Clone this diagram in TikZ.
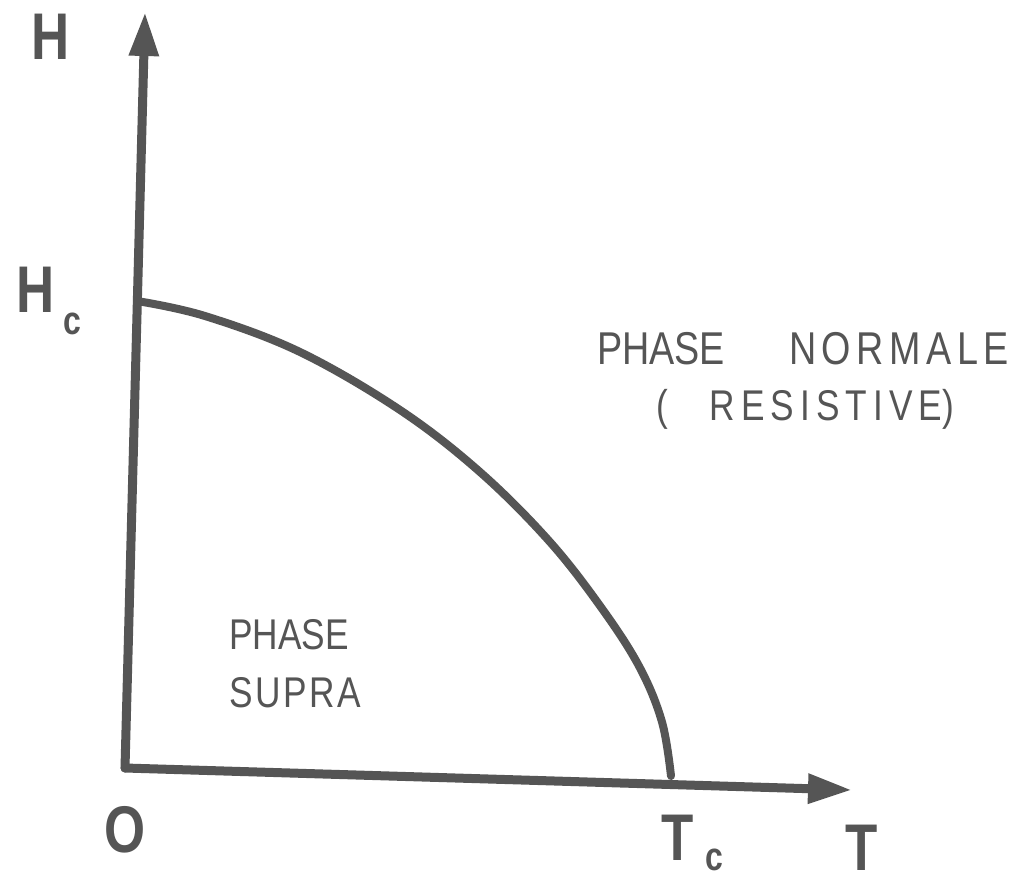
\documentclass[tikz,border=0pt]{standalone}
\usepackage{fontspec}
\setmainfont{Liberation Sans}
\newfontfamily\handfont[FakeStretch=0.82]{Liberation Sans}
\newfontfamily\handbold[FakeStretch=0.80]{Liberation Sans Bold}
\usetikzlibrary{arrows.meta,positioning}
\definecolor{ink}{HTML}{555555}
\tikzset{
  axis/.style  = {line width=9pt, draw=ink, line cap=round,
                  -{Triangle[length=44pt,width=28pt]}},
  curve/.style = {line width=8pt, draw=ink, line cap=round},
  hand/.style  = {text=ink, inner sep=0pt, font=\handfont\fontsize{46}{54}\selectfont},
  small/.style = {hand, font=\handfont\fontsize{43}{50}\selectfont},
  label/.style = {text=ink, inner sep=0pt, font=\handbold\fontsize{66}{70}\selectfont},
  sub/.style   = {label, font=\handbold\fontsize{40}{44}\selectfont},
}

\begin{document}
\begin{tikzpicture}[x=1pt,y=-1pt]
  \useasboundingbox (0,0) rectangle (1028,889);
  \fill[white] (0,0) rectangle (1028,889);
  % axes
  \coordinate (O) at (125,768);
  \coordinate (Htip) at (145,12);
  \coordinate (Ttip) at (852,790);
  \draw[axis] (O) -- (Htip);
  \draw[axis] (O) -- (Ttip);
  % transition line
  \coordinate (Hc) at (137,301);
  \coordinate (Tc) at (671,776);
  \draw[curve] plot[smooth,tension=0.6] coordinates
     {(Hc) (205,316) (300,352) (400,410) (480,472) (550,542) (603,610) (640,668) (662,722) (Tc)};
  % axis labels
  \node[label] (lH) at (51,37) {H};
  \node[label] (lHc) at (36,290) {H};
  \node[sub] (lc) at (72,324) {c};
  \node[label] (lO) at (125,830) {O};
  \node[label] (lTc) at (678,838) {T};
  \node[sub] (lcT) at (714,860) {c};
  \node[label] (lT) at (862,848) {T};
  % phase labels
  \node[hand] (normal) at (803,349)
     {PHASE\hspace{64pt}{\addfontfeature{LetterSpace=12}NORMALE}};
  \node[small] (resist) at (805,409)
     {(\hspace{42pt}{\addfontfeature{LetterSpace=14}RESISTIVE})};
  \node[small] (supra1) at (289,635) {PHASE};
  \node[small,below=27pt of supra1.south west,anchor=north west] (supra2)
     {\addfontfeature{LetterSpace=6}SUPRA};
\end{tikzpicture}
\end{document}
